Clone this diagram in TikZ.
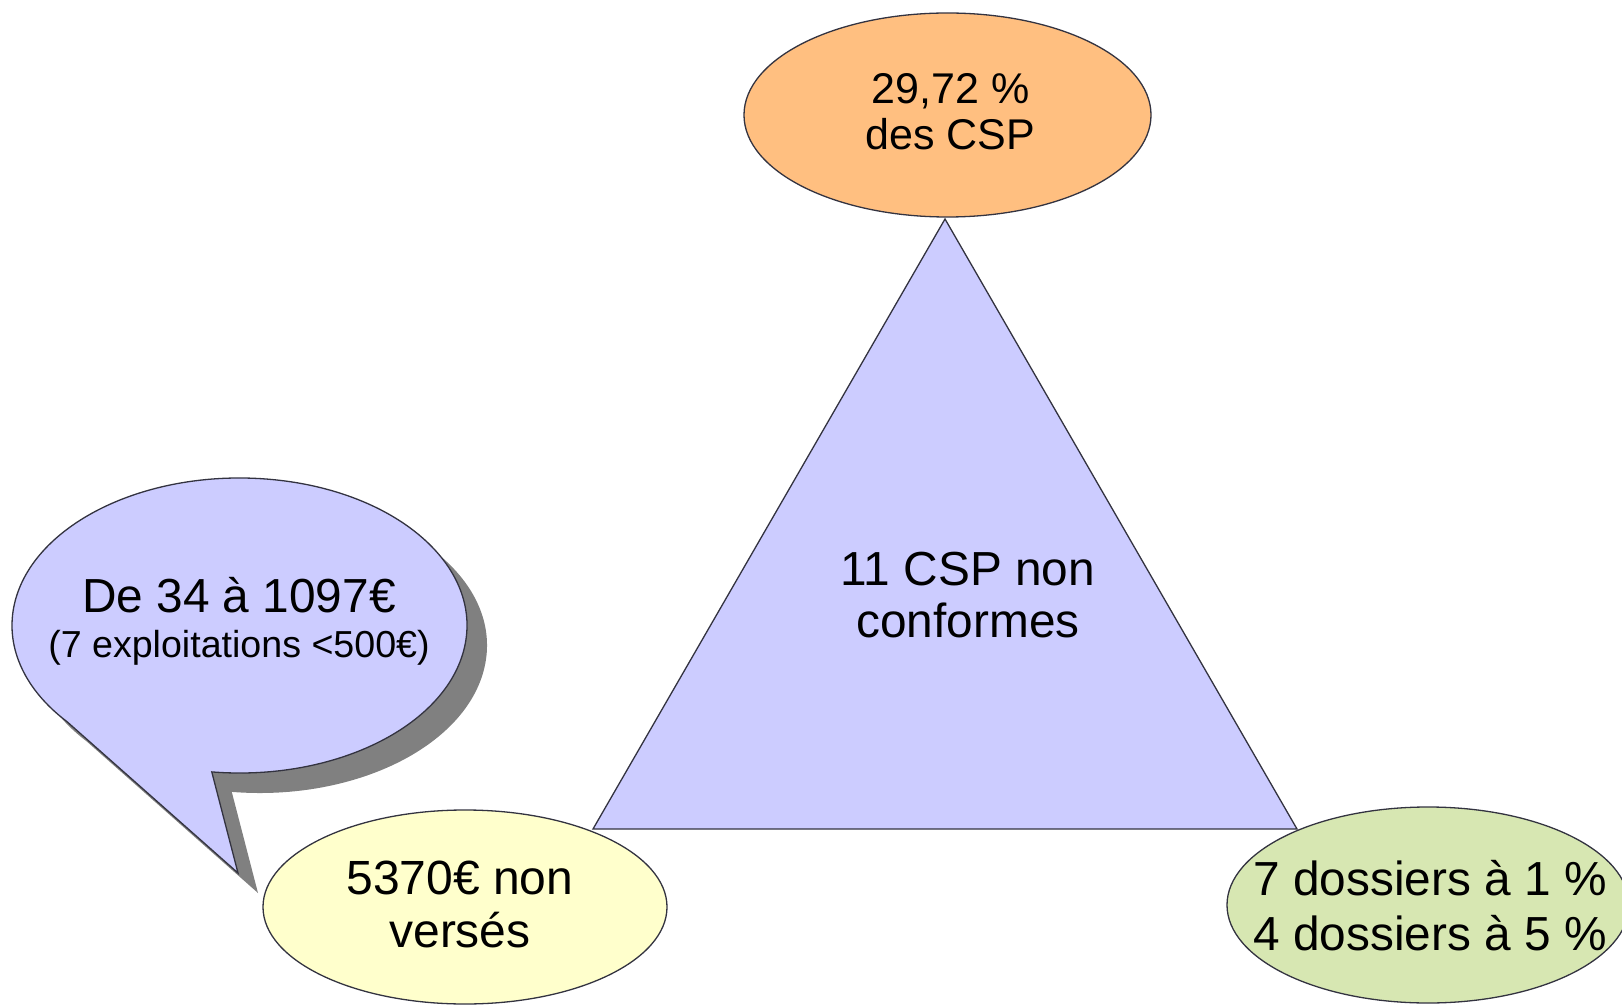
\documentclass[tikz,border=0pt]{standalone}
\usepackage{fontspec}
\setmainfont{Liberation Sans}
\usetikzlibrary{shapes.geometric,calc}
\definecolor{orangefill}{HTML}{FFBF80}
\definecolor{lavender}{HTML}{CCCCFF}
\definecolor{yellowfill}{HTML}{FFFFCC}
\definecolor{greenfill}{HTML}{D7E7B2}
\definecolor{shadowgray}{HTML}{808080}
\definecolor{linecol}{HTML}{333340}
\newcommand\bubpath{(239.5,625.5) ++(-97:113.75pt and 73.75pt)
  arc[start angle=-97,end angle=220.6,x radius=113.75pt,y radius=73.75pt]
  -- (238,873) -- cycle}
\begin{document}
\begin{tikzpicture}[x=0.5pt,y=-0.5pt,
  outline/.style={draw=linecol,line width=0.65pt},
  ellbox/.style={ellipse,outline,inner sep=0pt},
  txt/.style={align=center,inner sep=0pt,text=black}]
\path[use as bounding box] (0,0) rectangle (1622,1005);
% speech bubble with shadow
\begin{scope}[shift={(20,20)}]
  \fill[shadowgray] \bubpath;
\end{scope}
\path[outline,fill=lavender] \bubpath;
% triangle
\coordinate (A) at (945,219);
\coordinate (B) at (593,829);
\coordinate (C) at (1297,829);
\path[outline,fill=lavender] (A) -- (B) -- (C) -- cycle;
% ellipses
\node[ellbox,fill=orangefill,minimum width=203.5pt,minimum height=102pt] (top) at (947.5,115) {};
\node[ellbox,fill=yellowfill,minimum width=202pt,minimum height=97pt] (yel) at (465,907) {};
\node[ellbox,fill=greenfill,minimum width=201pt,minimum height=98pt] (grn) at (1428,905) {};
% texts
\node[txt,font=\fontsize{21.5}{23}\selectfont] (toptxt) at (950.5,111.5) {29,72 \%\\des CSP};
\node[txt,font=\fontsize{23.9}{26}\selectfont] (tritxt) at (968,595.5) {11 CSP non\\conformes};
\node[txt,font=\fontsize{24}{26.5}\selectfont] (yeltxt) at (460,904.5) {5370€ non\\versés};
\node[txt,font=\fontsize{23.9}{27.5}\selectfont] (grntxt) at (1430,906) {7 dossiers à 1 \%\\4 dossiers à 5 \%};
\node[txt,font=\fontsize{23.9}{22.5}\selectfont] (bubtxt) at (239,621) {De 34 à 1097€\\{\fontsize{18.8}{22.5}\selectfont (7 exploitations <500€)}};
\end{tikzpicture}
\end{document}
